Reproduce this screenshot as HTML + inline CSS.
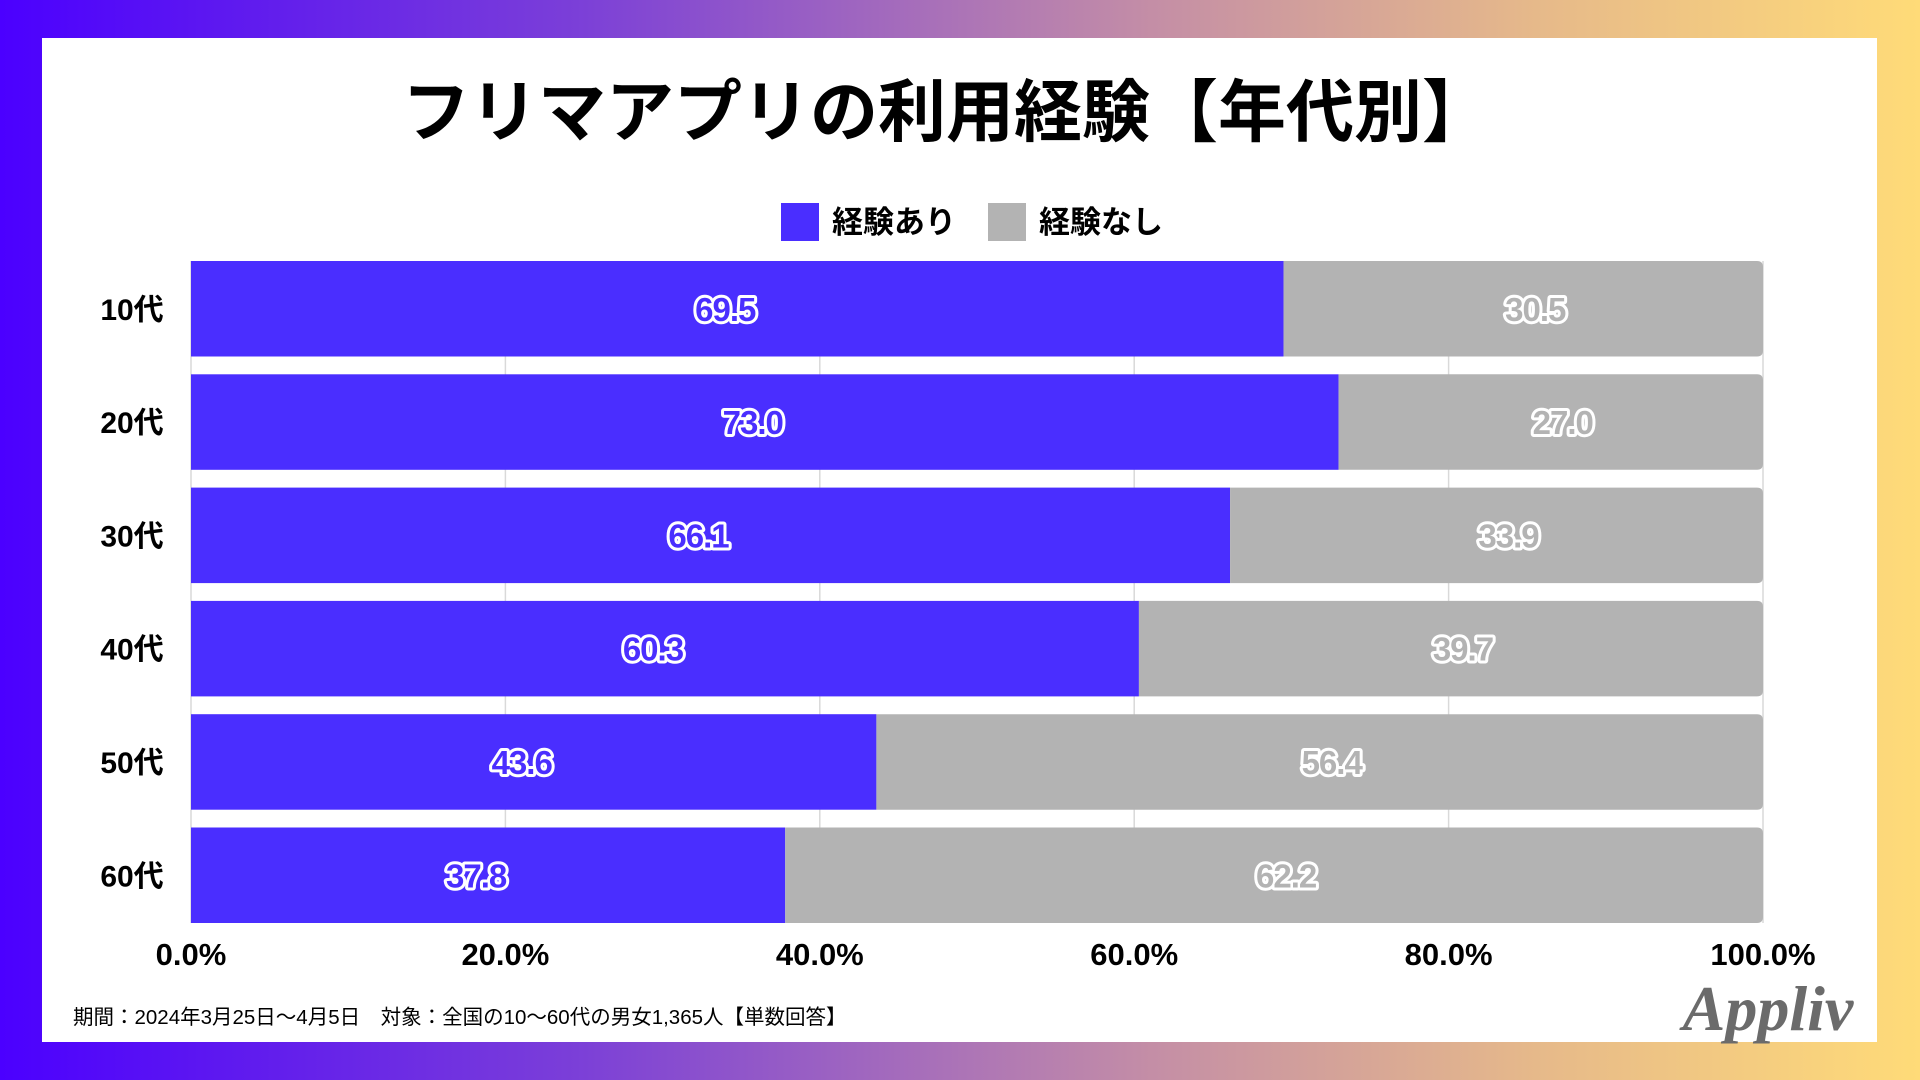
<!DOCTYPE html>
<html><head><meta charset="utf-8"><style>
html,body{margin:0;padding:0;width:1920px;height:1080px;overflow:hidden}
body{background:linear-gradient(90deg,#4b00ff 0%,#7b3fd8 30%,#c48ea6 60%,#e6b98a 80%,#ffdb78 100%);font-family:"Liberation Sans","Noto Sans CJK JP",sans-serif}
#panel{position:absolute;left:42px;top:38px;width:1835px;height:1004px;background:#fff}
</style></head><body>
<div id="panel"></div>
<svg id="chart" width="1920" height="1080" style="position:absolute;left:0;top:0"></svg>
<script>
const categories=["10代","20代","30代","40代","50代","60代"];
const seriesYes=[69.5,73.0,66.1,60.3,43.6,37.8];
const seriesNo=[30.5,27.0,33.9,39.7,56.4,62.2];
const tickValues=[0,20,40,60,80,100];
const tickLabels=["0.0%","20.0%","40.0%","60.0%","80.0%","100.0%"];
const NS="http://www.w3.org/2000/svg";
const svg=document.getElementById('chart');
const X0=191,X1=1763,Y0=261,PITCH=113.3,BH=95.5;
const FONT='"Liberation Sans","Noto Sans CJK JP",sans-serif';
function xs(v){return X0+(X1-X0)*v/100;}
function ys(i){return Y0+i*PITCH;}
function mk(tag,attrs,text){const e=document.createElementNS(NS,tag);for(const k in attrs)e.setAttribute(k,attrs[k]);if(text!=null)e.textContent=text;svg.appendChild(e);return e;}
let t=mk('text',{x:946,y:136,'text-anchor':'middle','font-size':68,'font-weight':'bold','font-family':FONT,fill:'#000'},'フリマアプリの利用経験【年代別】');


let r=mk('rect',{x:781,y:203,width:38,height:38,fill:'#4a2eff'});


t=mk('text',{x:832,y:233,'font-size':31,'font-weight':'bold','font-family':FONT},'経験あり');


r=mk('rect',{x:988,y:203,width:38,height:38,fill:'#b3b3b3'});


t=mk('text',{x:1039,y:233,'font-size':31,'font-weight':'bold','font-family':FONT},'経験なし');


tickValues.forEach((v,i)=>{
 const l=mk('line',{x1:xs(v),x2:xs(v),y1:Y0,y2:ys(categories.length-1)+BH,stroke:'#d9d9d9','stroke-width':1.5});
 
 
 const tl=mk('text',{x:xs(v),y:965,'text-anchor':'middle','font-size':31,'font-weight':'bold','font-family':FONT},tickLabels[i]);
 
 
});
categories.forEach((c,i)=>{
 const y=ys(i);
 const cl=mk('text',{x:132,y:y+BH/2+11,'text-anchor':'middle','font-size':30,'font-weight':'bold','font-family':FONT},c);
 
 
 const a=mk('rect',{x:xs(0),y:y,width:xs(seriesYes[i])-xs(0),height:BH,fill:'#4a2eff'});
 
 
 const b=mk('path',{d:`M${xs(seriesYes[i])},${y}H${xs(100)-6}Q${xs(100)},${y} ${xs(100)},${y+6}V${y+BH-6}Q${xs(100)},${y+BH} ${xs(100)-6},${y+BH}H${xs(seriesYes[i])}Z`,fill:'#b3b3b3'});
 
 
 const la=mk('text',{x:(xs(0)+xs(seriesYes[i]))/2-12,y:y+BH/2+12,'text-anchor':'middle','font-size':33,'font-weight':'bold','font-family':FONT,fill:'#4a2eff',stroke:'#fff','stroke-width':6,'paint-order':'stroke','stroke-linejoin':'round','letter-spacing':-1},seriesYes[i].toFixed(1));
 
 
 const lb=mk('text',{x:(xs(seriesYes[i])+xs(100))/2+12,y:y+BH/2+12,'text-anchor':'middle','font-size':33,'font-weight':'bold','font-family':FONT,fill:'#b3b3b3',stroke:'#fff','stroke-width':6,'paint-order':'stroke','stroke-linejoin':'round','letter-spacing':-1},seriesNo[i].toFixed(1));
 
 
});
t=mk('text',{x:73,y:1024,'font-size':20.5,'font-family':FONT,fill:'#000'},'期間：2024年3月25日〜4月5日　対象：全国の10〜60代の男女1,365人【単数回答】');


t=mk('text',{x:1768,y:1030,'text-anchor':'middle','font-size':64,'font-style':'italic','font-weight':'bold','font-family':'"Liberation Serif",serif',fill:'#6b6b6b'},'Appliv');


</script>
</body></html>
